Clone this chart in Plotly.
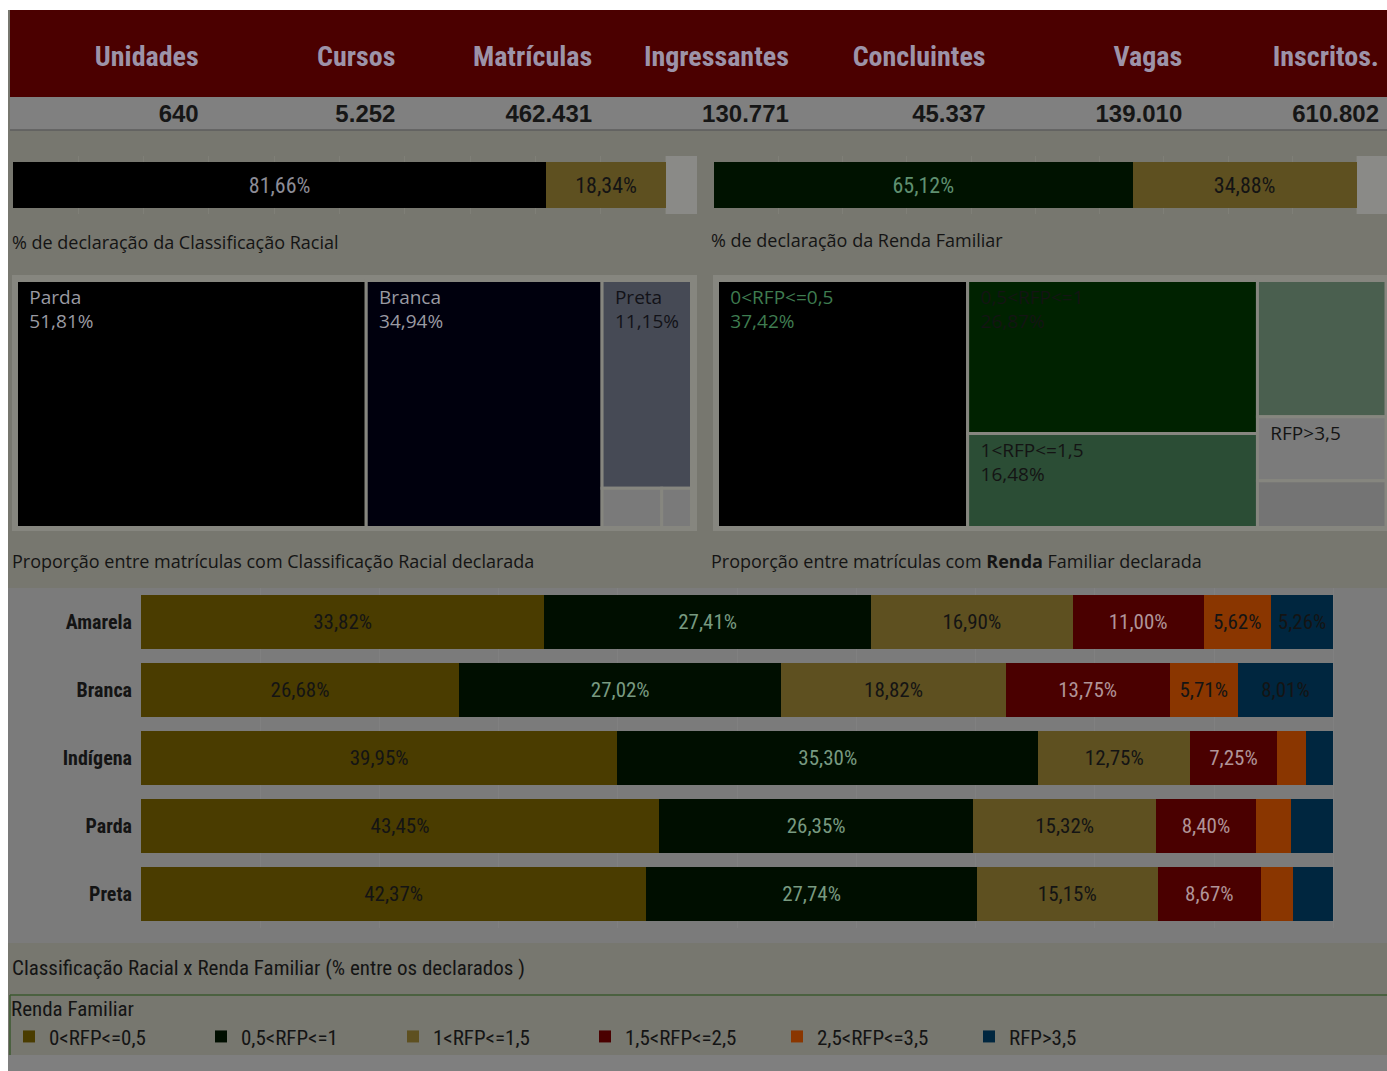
import plotly.graph_objects as go

W, H = 1387, 1071


def X(px):
    return px / W


def Y(py):
    return 1 - py / H


# ---------------- data ----------------
kpi_labels = ["Unidades", "Cursos", "Matrículas", "Ingressantes", "Concluintes", "Vagas", "Inscritos."]
kpi_values = ["640", "5.252", "462.431", "130.771", "45.337", "139.010", "610.802"]

racial_decl_names = ["Declarado", "Não declarado"]
racial_decl = [81.66, 18.34]
renda_decl_names = ["Declarado", "Não declarado"]
renda_decl = [65.12, 34.88]

racial_cats = ["Parda", "Branca", "Preta", "Amarela", "Indígena"]
racial_share = [51.81, 34.94, 11.15, 1.40, 0.70]
racial_show = ["full", "full", "full", "none", "none"]

renda_cats = ["0<RFP<=0,5", "0,5<RFP<=1", "1<RFP<=1,5", "1,5<RFP<=2,5", "RFP>3,5", "2,5<RFP<=3,5"]
renda_share = [37.42, 26.87, 16.48, 10.60, 5.00, 3.63]
renda_show = ["full", "full", "full", "none", "label", "none"]

races = ["Amarela", "Branca", "Indígena", "Parda", "Preta"]
rfp_names = ["0<RFP<=0,5", "0,5<RFP<=1", "1<RFP<=1,5", "1,5<RFP<=2,5", "2,5<RFP<=3,5", "RFP>3,5"]
rfp_0_05 = [33.82, 26.68, 39.95, 43.45, 42.37]
rfp_05_1 = [27.41, 27.02, 35.30, 26.35, 27.74]
rfp_1_15 = [16.90, 18.82, 12.75, 15.32, 15.15]
rfp_15_25 = [11.00, 13.75, 7.25, 8.40, 8.67]
rfp_25_35 = [5.62, 5.71, 2.45, 2.95, 2.72]
rfp_gt_35 = [5.26, 8.01, 2.30, 3.53, 3.35]
rfp_series = [rfp_0_05, rfp_05_1, rfp_1_15, rfp_15_25, rfp_25_35, rfp_gt_35]

# ---------------- styles ----------------
NARROW = "Liberation Sans Narrow, Roboto Condensed, Arial Narrow, sans-serif"
BOOK = "Open Sans, Noto Sans, sans-serif"
SANS = "Liberation Sans, Arial, sans-serif"
OLIVE = "#77776f"
GRAY = "#7b7b7b"
DARK = "#141414"
RED = "#4b0000"

rfp_colors = ["#4a3c00", "#000e00", "#5e5020", "#4a0000", "#8a3600", "#00263f"]
rfp_text_colors = [DARK, "#789a80", DARK, "#b09498", DARK, DARK]


def pct(v):
    return f"{v:.2f}".replace(".", ",") + "%"


IND = "\u00a0\u00a0"

fig = go.Figure()

# ---------------- KPI table ----------------
fig.add_trace(go.Table(
    domain=dict(x=[X(10), 1], y=[Y(131), Y(32)]),
    columnwidth=[1] * len(kpi_labels),
    header=dict(values=[f"<b>{l}</b>" for l in kpi_labels], fill_color=RED,
                line_color=RED, align="right", height=64,
                font=dict(size=28, color="#9d93a8", family=NARROW)),
    cells=dict(values=[[v] for v in kpi_values], fill_color="#808080", line_color="#808080",
               align="right", height=33, font=dict(size=24, color="#161616", family=SANS, weight="bold")),
))

# ---------------- top declaration bars ----------------
top_colors_r = ["#000000", "#5e5020"]
top_text_r = ["#8c8c96", DARK]
for name, v, c, tc in zip(racial_decl_names, racial_decl, top_colors_r, top_text_r):
    fig.add_trace(go.Bar(x=[v], y=["r"], orientation="h", marker=dict(color=c, line=dict(width=0)),
                         text=[pct(v)], textposition="inside", insidetextanchor="middle",
                         textfont=dict(color=tc, size=22, family=NARROW), xaxis="x", yaxis="y",
                         showlegend=False, hoverinfo="skip", name=name))
top_colors_f = ["#001200", "#5e5020"]
top_text_f = ["#5f9070", DARK]
for name, v, c, tc in zip(renda_decl_names, renda_decl, top_colors_f, top_text_f):
    fig.add_trace(go.Bar(x=[v], y=["f"], orientation="h", marker=dict(color=c, line=dict(width=0)),
                         text=[pct(v)], textposition="inside", insidetextanchor="middle",
                         textfont=dict(color=tc, size=22, family=NARROW), xaxis="x2", yaxis="y2",
                         showlegend=False, hoverinfo="skip", name=name))


# ---------------- treemaps ----------------
def tile_text(c, v, m):
    if m == "full":
        return f"{IND}{c}<br>{IND}{pct(v)}"
    if m == "label":
        return f"{IND}{c}"
    return ""


r_text = [tile_text(c, v, m) for c, v, m in zip(racial_cats, racial_share, racial_show)]
fig.add_trace(go.Treemap(
    labels=racial_cats, parents=[""] * len(racial_cats), values=racial_share,
    text=r_text, texttemplate="%{text}", textposition="top left",
    textfont=dict(size=19, family=BOOK, color=["#9a9aa2", "#9a9aa2", "#121218", DARK, DARK]),
    marker=dict(colors=["#000000", "#00000d", "#464a55", "#7a7a7a", "#7a7a7a"],
                line=dict(width=3, color="#86867f"), pad=dict(t=0, l=0, r=0, b=0)),
    tiling=dict(squarifyratio=1.75, pad=0), pathbar=dict(visible=False),
    root=dict(color="rgba(0,0,0,0)"), sort=True, hoverinfo="skip",
    domain=dict(x=[X(16.5), X(691.5)], y=[Y(527.5), Y(280.5)]),
))

f_text = [tile_text(c, v, m) for c, v, m in zip(renda_cats, renda_share, renda_show)]
fig.add_trace(go.Treemap(
    labels=renda_cats, parents=[""] * len(renda_cats), values=renda_share,
    text=f_text, texttemplate="%{text}", textposition="top left",
    textfont=dict(size=19, family=BOOK, color=["#3f7c50", DARK, DARK, DARK, DARK, DARK]),
    marker=dict(colors=["#000000", "#002200", "#2b4d35", "#4a5f4f", "#7b7b7b", "#747474"],
                line=dict(width=3, color="#86867f"), pad=dict(t=0, l=0, r=0, b=0)),
    tiling=dict(squarifyratio=1.75, pad=0), pathbar=dict(visible=False),
    root=dict(color="rgba(0,0,0,0)"), sort=True, hoverinfo="skip",
    domain=dict(x=[X(717.5), X(1386)], y=[Y(527.5), Y(280.5)]),
))

# ---------------- main stacked bars ----------------
for name, vals, c, tc in zip(rfp_names, rfp_series, rfp_colors, rfp_text_colors):
    fig.add_trace(go.Bar(
        x=vals, y=races, orientation="h", name=name,
        marker=dict(color=c, line=dict(width=0)),
        text=[pct(v) if v >= 5 else "" for v in vals], textposition="inside",
        insidetextanchor="middle", textangle=0,
        textfont=dict(color=tc, size=21, family=NARROW),
        xaxis="x3", yaxis="y3", hoverinfo="skip",
    ))

# ---------------- layout ----------------
shapes = [
    dict(type="rect", xref="paper", yref="paper", x0=X(8), x1=1, y0=0, y1=Y(10),
         fillcolor=OLIVE, line=dict(width=0), layer="below"),
    dict(type="rect", xref="paper", yref="paper", x0=X(10), x1=1, y0=Y(33), y1=Y(10),
         fillcolor=RED, line=dict(width=0), layer="below"),
    dict(type="rect", xref="paper", yref="paper", x0=X(8), x1=1, y0=Y(943), y1=Y(588),
         fillcolor=GRAY, line=dict(width=0), layer="below"),
    dict(type="rect", xref="paper", yref="paper", x0=X(8), x1=1, y0=0, y1=Y(1055),
         fillcolor="#7f7f7f", line=dict(width=0), layer="below"),
    # treemap containers
    dict(type="rect", xref="paper", yref="paper", x0=X(12), x1=X(697), y0=Y(531), y1=Y(275),
         fillcolor="#86867f", line=dict(width=0), layer="below"),
    dict(type="rect", xref="paper", yref="paper", x0=X(713), x1=1, y0=Y(531), y1=Y(275),
         fillcolor="#86867f", line=dict(width=0), layer="below"),
    # band beyond 100% on top bars
    dict(type="rect", xref="x", yref="y domain", x0=100, x1=104.75, y0=0, y1=1,
         fillcolor="#8a8a87", line=dict(width=0), layer="below"),
    dict(type="rect", xref="x2", yref="y2 domain", x0=100, x1=104.7, y0=0, y1=1,
         fillcolor="#8a8a87", line=dict(width=0), layer="below"),
    # line under KPI row
    dict(type="line", xref="paper", yref="paper", x0=X(10), x1=1, y0=Y(130), y1=Y(130),
         line=dict(color="#5c5c5c", width=1.5)),
    # legend frame lines
    dict(type="line", xref="paper", yref="paper", x0=X(10), x1=1, y0=Y(995), y1=Y(995),
         line=dict(color="#3c5a30", width=1.5)),
    dict(type="line", xref="paper", yref="paper", x0=X(10), x1=X(10), y0=Y(1055), y1=Y(995),
         line=dict(color="#3c5a30", width=1.5)),
]

ann_font = dict(size=18, color=DARK, family=BOOK)
annotations = [
    dict(text="% de declaração da Classificação Racial", x=X(10), y=Y(242), xref="paper", yref="paper",
         xanchor="left", yanchor="middle", showarrow=False, font=ann_font),
    dict(text="% de declaração da Renda Familiar", x=X(709), y=Y(240), xref="paper", yref="paper",
         xanchor="left", yanchor="middle", showarrow=False, font=ann_font),
    dict(text="Proporção entre matrículas com Classificação Racial declarada", x=X(10), y=Y(561),
         xref="paper", yref="paper", xanchor="left", yanchor="middle", showarrow=False, font=ann_font),
    dict(text="Proporção entre matrículas com <b>Renda</b> Familiar declarada", x=X(709), y=Y(561),
         xref="paper", yref="paper", xanchor="left", yanchor="middle", showarrow=False, font=ann_font),
    dict(text="Classificação Racial x Renda Familiar (% entre os declarados )", x=X(10), y=Y(968),
         xref="paper", yref="paper", xanchor="left", yanchor="middle", showarrow=False,
         font=dict(size=21, color=DARK, family=NARROW)),
]

grid_top = "#7f7f77"
fig.update_layout(
    width=W, height=H, margin=dict(l=0, r=0, t=0, b=0),
    paper_bgcolor="#ffffff", plot_bgcolor="rgba(0,0,0,0)",
    barmode="stack", bargap=0.2,
    separators=",.",
    font=dict(family=BOOK, color=DARK),
    xaxis=dict(domain=[X(13), X(697)], range=[0, 104.75], dtick=10, showgrid=True, gridcolor=grid_top,
               zeroline=False, showticklabels=False),
    yaxis=dict(domain=[Y(214), Y(156)], showticklabels=False, showgrid=False, zeroline=False),
    xaxis2=dict(domain=[X(714), 1], range=[0, 104.7], dtick=10, showgrid=True, gridcolor=grid_top,
                zeroline=False, showticklabels=False, anchor="y2"),
    yaxis2=dict(domain=[Y(214), Y(156)], showticklabels=False, showgrid=False, zeroline=False, anchor="x2"),
    xaxis3=dict(domain=[X(141), 1], range=[0, 104.5], dtick=10, showgrid=True, gridcolor="#808080",
                zeroline=False, showticklabels=False, anchor="y3"),
    yaxis3=dict(domain=[Y(928), Y(588)], anchor="x3", categoryorder="array", categoryarray=races,
                autorange="reversed", showgrid=False, zeroline=False, ticks="", ticklabelstandoff=8,
                tickfont=dict(size=20, color=DARK, family=NARROW, weight="bold")),
    legend=dict(orientation="h", x=X(9), y=Y(989), xanchor="left", yanchor="top",
                title=dict(text="Renda Familiar", side="top", font=dict(size=21, family=NARROW, color=DARK)),
                font=dict(size=21, family=NARROW, color=DARK), bgcolor="rgba(0,0,0,0)",
                entrywidth=147, traceorder="normal", itemclick=False),
    shapes=shapes, annotations=annotations,
)

fig.write_html(
    "out.html",
    config={"displayModeBar": False},
    post_script="document.body.style.margin='0';document.body.style.overflow='hidden';",
)
